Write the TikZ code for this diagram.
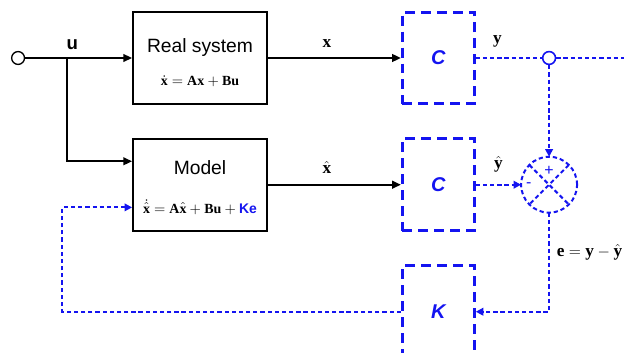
\documentclass[tikz,border=0pt]{standalone}
\usepackage{fontspec}
\setmainfont{Liberation Serif}
\setsansfont{Liberation Sans}
\usetikzlibrary{arrows.meta,positioning,calc}
\definecolor{obsblue}{HTML}{1414F0}
\definecolor{ink}{HTML}{000000}

\begin{document}
\begin{tikzpicture}[
    x=0.2646mm, y=-0.2646mm,
    font=\sffamily,
    text=ink,
    plant/.style={
        draw=ink,
        line width=1.5pt,
        minimum width=35.4mm,
        minimum height=24.3mm,
        align=center,
        inner sep=2pt,
        font=\sffamily\fontsize{14.5}{17}\selectfont
    },
    outblock/.style={draw=obsblue, line width=2.3pt, dash pattern=on 7.5pt off 4.5pt,
        minimum width=19mm, minimum height=24.3mm, text=obsblue,
        font=\sffamily\bfseries\itshape\fontsize{15}{18}\selectfont},
    arrow/.style={-{Triangle[length=2.3mm,width=2mm]}, line width=1.5pt, draw=ink},
    fbline/.style={draw=obsblue, line width=1.5pt, dash pattern=on 3.2pt off 2.2pt},
    fbarrow/.style={fbline, -{Triangle[length=2mm,width=2mm]}},
    port/.style={circle, draw=ink, fill=white, line width=1pt, inner sep=0pt,
        minimum size=3.4mm},
    sumnode/.style={circle, fbline, inner sep=0pt, outer sep=0pt, minimum size=14.8mm},
    sig/.style={font=\fontsize{13}{15}\selectfont, text=ink}
]
\useasboundingbox (0,0) rectangle (624,353);

% plant and model
\node[plant] (real) at (200,58) {\rule{0pt}{17.4pt}Real system\\[7.8pt]
    {\fontsize{10.5}{12}\selectfont$\dot{\mathbf{x}} = \mathbf{Ax} + \mathbf{Bu}$}};
\node[plant, below=8.7mm of real] (model) {\rule{0pt}{14.4pt}Model\\[12.2pt]
    {\fontsize{10.5}{12}\selectfont$\dot{\hat{\mathbf{x}}} = \mathbf{A}\hat{\mathbf{x}} + \mathbf{Bu} + {}$%
    \textcolor{obsblue}{\sffamily\bfseries Ke}}};

% output matrices and gain
\node[outblock, right=35.2mm of real] (C1) {C};
\node[outblock, right=35.2mm of model] (C2) {C};
\node[outblock, below=8.5mm of C2] (K) {K};

\node[port, left=28.3mm of real] (input) {};
\coordinate (split) at ([xshift=11.1mm]input.east);
\node[port, draw=obsblue, line width=1.2pt] (tap) at ([xshift=19.4mm]C1.east) {};
\coordinate (yout) at ([xshift=20mm]tap.east);
\node[sumnode] (sum) at (tap |- C2) {};

% input side
\draw[arrow] (input) -- (real);
\draw[arrow] (split) |- ([yshift=6.2mm]model.west);
\node[font=\sffamily\bfseries\fontsize{14}{16}\selectfont] (ulabel)
    at ([xshift=1.4mm,yshift=3.6mm]split) {u};

\draw[arrow] (real) -- (C1) node[midway, above=4pt, xshift=-2mm, sig] (xlabel) {$\mathbf{x}$};
\draw[arrow] (model.east |- C2) -- (C2) node[midway, above=4pt, xshift=-2mm, sig] (xhlabel) {$\hat{\mathbf{x}}$};

% observer loop
\draw[fbline] (C1) -- (tap) node[midway, above=4pt, xshift=-3mm, sig] (ylabel) {$\mathbf{y}$};
\draw[fbline] (tap) -- (yout);
\draw[fbarrow] (tap) -- (sum);
\draw[fbarrow] (C2) -- (sum) node[midway, above=5.5pt, sig] (yhlabel) {$\hat{\mathbf{y}}$};
\draw[fbline] (sum.north east) -- (sum.south west);
\draw[fbline] (sum.north west) -- (sum.south east);
\node[text=obsblue, font=\sffamily\fontsize{12}{14}\selectfont] (plus) at ([yshift=3.6mm]sum.center) {+};
\node[text=obsblue, font=\sffamily\fontsize{12}{14}\selectfont] (minus) at ([xshift=-5.4mm]sum.center) {-};

\draw[fbarrow] (sum) |- (K) node[pos=0.2, right=0.6mm, sig] (elabel)
    {$\mathbf{e} = \mathbf{y} - \hat{\mathbf{y}}$};
\draw[fbarrow] (K) -| ([xshift=-18.5mm,yshift=-6mm]model.west) -- ([yshift=-6mm]model.west);

\end{tikzpicture}
\end{document}
